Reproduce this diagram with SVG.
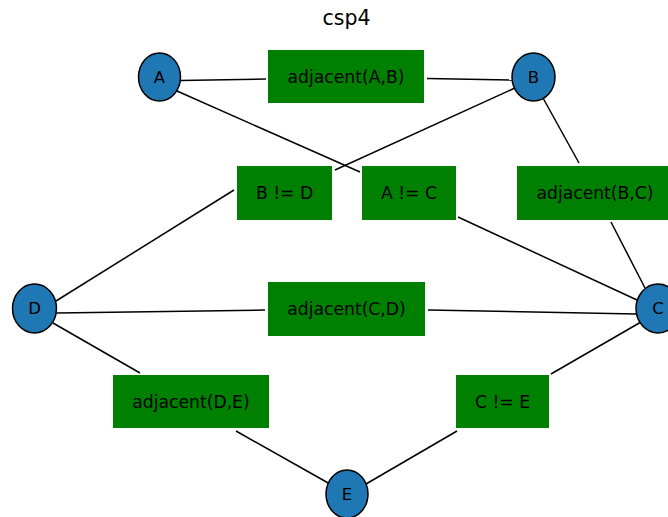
<svg xmlns="http://www.w3.org/2000/svg" width="668" height="517" viewBox="0 0 668 517">
<style>
.var ellipse{fill:#1f77b4;stroke:#000;stroke-width:1.5}
.con rect{fill:#008000}
text{font-family:"DejaVu Sans",sans-serif;text-anchor:middle;fill:#000}
.var text{font-size:16.5px}
.con text{font-size:17.2px}
.title{font-size:20.5px}
#edges line{stroke:#000;stroke-width:1.5}
</style>
<rect width="668" height="517" fill="#fff"/>
<text class="title" x="346.5" y="25">csp4</text>
<g id="edges">
<line x1="180" y1="80.5" x2="266" y2="79"/>
<line x1="427" y1="78.5" x2="512" y2="80"/>
<line x1="177" y1="91" x2="360" y2="172"/>
<line x1="515" y1="88" x2="335" y2="170"/>
<line x1="543" y1="98" x2="579" y2="163"/>
<line x1="611" y1="222" x2="645" y2="288"/>
<line x1="458" y1="217" x2="637" y2="300"/>
<line x1="56" y1="301" x2="234" y2="190"/>
<line x1="57" y1="313" x2="265" y2="310"/>
<line x1="428" y1="310" x2="636" y2="314"/>
<line x1="53" y1="323" x2="140" y2="373"/>
<line x1="236" y1="431" x2="330" y2="484"/>
<line x1="366" y1="484" x2="457" y2="431"/>
<line x1="551" y1="374" x2="641" y2="322"/>
</g>
<g id="adjAB" class="con"><rect x="268" y="50" width="156" height="53"/><text x="346" y="83">adjacent(A,B)</text></g>
<g id="adjBC" class="con"><rect x="517" y="166" width="156" height="54"/><text x="595" y="199">adjacent(B,C)</text></g>
<g id="BneD" class="con"><rect x="237" y="166" width="95" height="54"/><text x="284.5" y="199">B != D</text></g>
<g id="AneC" class="con"><rect x="362" y="166" width="94" height="54"/><text x="409" y="199">A != C</text></g>
<g id="adjCD" class="con"><rect x="268" y="282" width="157" height="54"/><text x="346.5" y="315">adjacent(C,D)</text></g>
<g id="adjDE" class="con"><rect x="113" y="375" width="156" height="53"/><text x="191" y="408">adjacent(D,E)</text></g>
<g id="CneE" class="con"><rect x="456" y="375" width="93" height="53"/><text x="502.5" y="408">C != E</text></g>
<g id="A" class="var"><ellipse cx="159.5" cy="77" rx="21" ry="24"/><text x="159.5" y="82.5">A</text></g>
<g id="B" class="var"><ellipse cx="533.5" cy="77" rx="21.5" ry="24"/><text x="533.5" y="82.5">B</text></g>
<g id="C" class="var"><ellipse cx="658" cy="308.5" rx="22" ry="24.5"/><text x="658" y="314">C</text></g>
<g id="D" class="var"><ellipse cx="34.5" cy="308.5" rx="22" ry="24.5"/><text x="34.5" y="314">D</text></g>
<g id="E" class="var"><ellipse cx="347" cy="494" rx="21" ry="24"/><text x="347" y="499.5">E</text></g>
</svg>
